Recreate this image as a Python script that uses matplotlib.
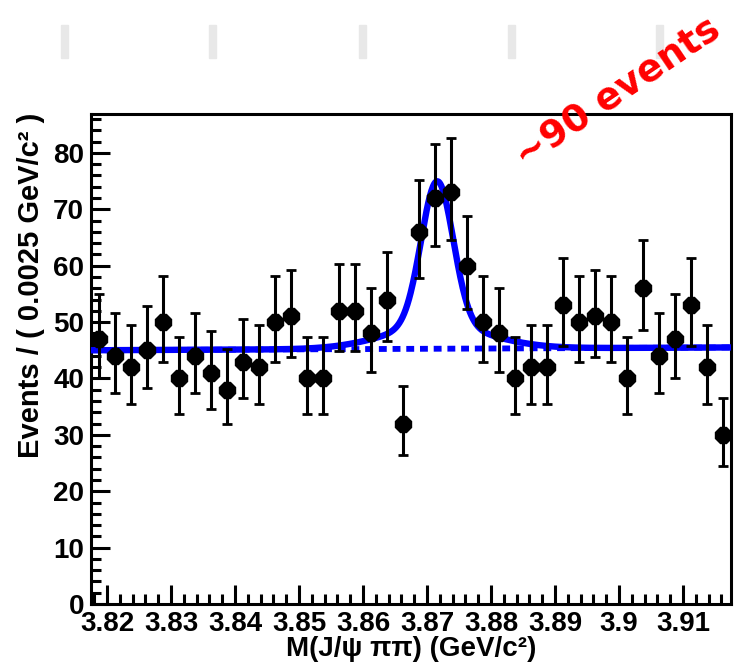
import numpy as np
import matplotlib
matplotlib.use('Agg')
from matplotlib import pyplot as plt
from matplotlib.patches import Rectangle
from matplotlib.ticker import MultipleLocator

# histogram: 40 bins of 0.0025 GeV/c^2
x_lo, x_hi = 3.8175, 3.9175
counts = [47, 44, 42, 45, 50, 40, 44, 41, 38, 43,
          42, 50, 51, 40, 40, 52, 52, 48, 54, 32,
          66, 72, 73, 60, 50, 48, 40, 42, 42, 53,
          50, 51, 50, 40, 56, 44, 47, 53, 42, 30]

# fit parameters (double gaussian on linear background)
bkg_left, bkg_right = 45.0, 45.5
sig_mean = 3.8716
sig_amp1, sig_width1 = 25.7, 0.0025
sig_amp2, sig_width2 = 4.0, 0.008

fig = plt.figure(figsize=(7.36, 6.67), dpi=100)
plt.rcParams['font.family'] = ['Liberation Sans Narrow', 'Liberation Sans', 'DejaVu Sans']

# faint grey marks at the top of the slide
for xp in [61, 209, 359, 508, 656]:
    fig.patches.append(Rectangle((xp / 736., 1 - 58 / 667.), 7 / 736., 33 / 667.,
                                 transform=fig.transFigure, color='#e8e8e8', zorder=0))

ax = fig.add_axes([91 / 736., 63 / 667., 640 / 736., 490 / 667.])

n = np.array(counts, dtype=float)
edges = np.linspace(x_lo, x_hi, len(counts) + 1)
centers = 0.5 * (edges[1:] + edges[:-1])
err_lo = np.sqrt(n - 0.25)
err_hi = np.sqrt(n + 0.75) + 1

xf = np.linspace(x_lo, x_hi, 800)
bkg = bkg_left + (bkg_right - bkg_left) * (xf - x_lo) / (x_hi - x_lo)
sig = (sig_amp1 * np.exp(-0.5 * ((xf - sig_mean) / sig_width1) ** 2) +
       sig_amp2 * np.exp(-0.5 * ((xf - sig_mean) / sig_width2) ** 2))

ax.plot(xf, bkg, color='#0000ff', lw=4.2, ls=(0, (1.35, 1.0)),
        dash_capstyle='butt', zorder=2)
ax.plot(xf, bkg + sig, color='#0000ff', lw=4.6, zorder=3)
ax.errorbar(centers, n, yerr=[err_lo, err_hi], fmt='8', color='black',
            markersize=12.5, elinewidth=2.2, capsize=3.5, capthick=2, zorder=4)

ax.set_xlim(x_lo, x_hi)
ax.set_ylim(0, 86.9)
ax.xaxis.set_minor_locator(MultipleLocator(0.002))
ax.yaxis.set_major_locator(MultipleLocator(10))
ax.yaxis.set_minor_locator(MultipleLocator(2))
ax.set_xticks(np.arange(3.82, 3.915, 0.01))
ax.set_xticklabels(['3.82', '3.83', '3.84', '3.85', '3.86', '3.87', '3.88', '3.89', '3.9', '3.91'])
ax.tick_params(which='both', direction='in', top=False, right=False, width=2.2)
ax.tick_params(which='major', length=14, labelsize=20, pad=5)
ax.tick_params(which='minor', length=7)
for lab in ax.get_xticklabels() + ax.get_yticklabels():
    lab.set_fontweight('bold')
for sp in ax.spines.values():
    sp.set_linewidth(2.2)

ax.set_ylabel('Events / ( 0.0025 GeV/c² )', fontsize=21, fontweight='bold')
ax.yaxis.set_label_coords(-0.072, 0.65)
ax.set_xlabel('M(J/ψ ππ) (GeV/c²)', fontsize=20, fontweight='bold')
ax.xaxis.set_label_coords(0.5, -0.066)

fig.text(0.84, 0.86, '~90 events', color='red', fontsize=27, fontweight='bold',
         rotation=34, ha='center', va='center', family=['DejaVu Sans'])

fig.savefig('out.png', dpi=100)
